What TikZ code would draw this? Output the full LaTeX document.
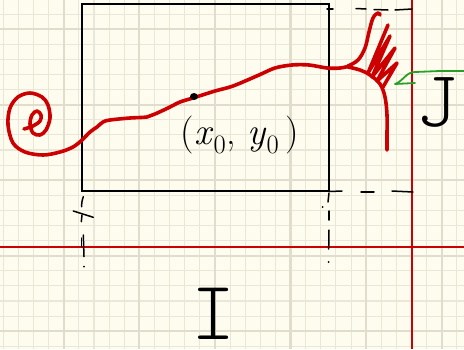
\documentclass[tikz,border=0pt]{standalone}
\definecolor{paper}{RGB}{254,252,238}
\definecolor{gridc}{RGB}{233,231,216}
\definecolor{gridd}{RGB}{224,221,205}
\definecolor{inkred}{RGB}{204,0,0}
\definecolor{inkgreen}{RGB}{40,160,40}
\tikzset{
  gridthin/.style={gridc, line width=1.1pt},
  gridthick/.style={gridd, line width=2.2pt},
  axisline/.style={inkred, line width=2pt},
  framebox/.style={black, line width=1.8pt},
  pen/.style={black, line width=1.5pt, line cap=round, line join=round},
  redpen/.style={inkred, line width=3.6pt, line cap=round, line join=round},
  greenpen/.style={inkgreen, line width=1.8pt, line cap=round, line join=round},
  hand/.style={inner sep=0pt, outer sep=0pt}
}
\begin{document}
\begin{tikzpicture}[x=1pt,y=-1pt]
\useasboundingbox (0,0) rectangle (464,349);
\clip (0,0) rectangle (464,349);
\fill[paper] (0,0) rectangle (464,349);
% grid
\foreach \k in {0,...,30} \draw[gridthin] ({3.3+15.12*\k},0) -- ({3.3+15.12*\k},349);
\foreach \k in {0,...,23} \draw[gridthin] (0,{-1+15.1*\k}) -- (464,{-1+15.1*\k});
\foreach \k in {4,9,...,29} \draw[gridthick] ({3.3+15.12*\k},0) -- ({3.3+15.12*\k},349);
\foreach \k in {2,7,...,22} \draw[gridthick] (0,{-1+15.1*\k}) -- (464,{-1+15.1*\k});
% axes
\draw[axisline] (0,247) -- (464,247);
\draw[axisline] (412,0) -- (412,349);
% rectangle
\draw[framebox] (82.3,4) rectangle (328.7,191);
% dashed guides (hand dashes)
\draw[pen] (327,9) -- (333,9);
\draw[pen] (356,8.5) -- (366,9);
\draw[pen] (374,9.5) -- (388,10);
\draw[pen] (395,10) -- (412,9);
\draw[pen] (329,191.5) -- (342,191);
\draw[pen] (361,192) -- (374,192);
\draw[pen] (392,191) -- (413,192);
\draw[pen] (329,193) -- (328,202);
\draw[pen] (329,211) -- (329,220);
\draw[pen] (329,230) -- (328.7,249);
\fill (328.7,262) circle (1pt);
\fill (322.7,207) circle (1pt);
\draw[pen] (83.3,196.7) to[bend right=10] (81.7,206.7);
\draw[pen] (73.3,211) -- (93.3,217.3);
\draw[pen] (82,215) -- (81.3,221.7);
\draw[pen] (83.3,235) -- (84,256.7);
\draw[pen] (81.3,238) -- (81.3,246.7);
\fill (84,266.7) circle (1pt);
% red curve
\draw[redpen] plot[smooth, tension=0.55] coordinates {
 (24,129) (33,126) (40,121) (41,115) (37,111) (32,115) (30,124) (33,133)
 (40,135) (46,130) (50,118) (48,105) (42,97) (30,93) (18,97) (10,108)
 (8,125) (13,143) (25,152) (43,155) (60,152) (73,147) (82,140) (90,132)
 (97,127) (103,122) (110,120) (130,118) (147,117) (155,114) (168,108)
 (180,102) (193,98) (215,91) (233,86) (259,75) (275,68) (292,65)
 (309,65) (327,68) (340,68) (350,66)};
\draw[redpen] plot[smooth, tension=0.6] coordinates {
 (348,66) (358,60) (365,48) (369,32) (373,18) (378,13) (380,15)};
\draw[redpen] (388,25) -- (368,73) -- (390,36) -- (372,77) -- (395,48)
  -- (377,81) -- (397,63) -- (383,87);
\draw[redpen] plot[smooth, tension=0.6] coordinates {
 (348,67) (360,70) (370,75) (380,84) (385,97) (387,115) (387,135) (387,150)};
% point
\fill[black] (194,96.5) ellipse (4pt and 3.5pt);
% green arrow
\draw[greenpen] (464,71) -- (440,71) -- (415,72) to[out=180,in=20] (395,84)
  -- (415,83);
% texts
\node[hand, font=\fontsize{38}{38}\selectfont] at (240,135)
  {(\textit{x}\textsubscript{0}, \textit{y}\textsubscript{0}\,)};
\node[hand, font=\ttfamily\fontseries{l}\fontsize{84}{84}\selectfont] at (214,314) {I};
\node[hand, font=\ttfamily\fontseries{l}\fontsize{80}{80}\selectfont] at (437,102) {J};
\end{tikzpicture}
\end{document}
